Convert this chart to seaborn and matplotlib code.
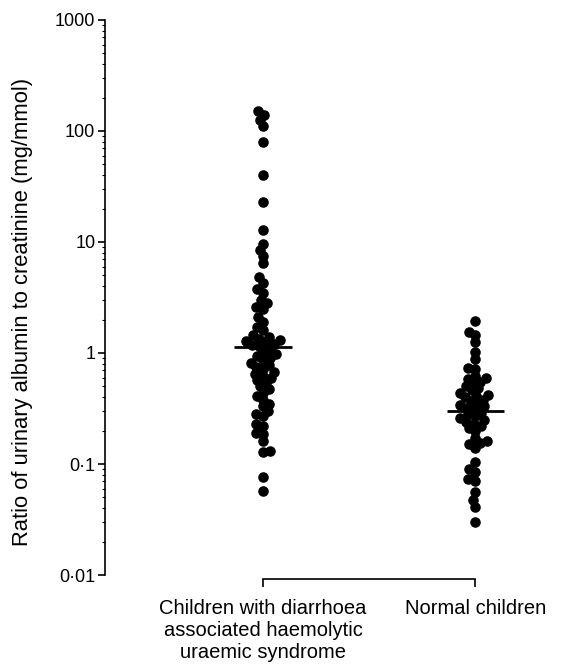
import numpy as np
import pandas as pd
import seaborn as sns
import matplotlib.pyplot as plt
from matplotlib.ticker import LogLocator, FixedLocator, NullFormatter

# Values (ratio, mg/mmol)
hus = [150, 140, 125, 110, 80, 40, 23, 12.8, 9.6, 8.5, 7.5, 6.5,
       4.8, 4.3, 3.8, 3.5, 3.0, 2.8, 2.6, 2.5, 2.1, 1.9, 1.7, 1.6, 1.45,
       1.4, 1.35, 1.3, 1.28, 1.25, 1.2, 1.18, 1.15,
       1.08, 1.02, 0.98, 0.93, 0.9, 0.86, 0.82, 0.78, 0.75, 0.72, 0.68,
       0.65, 0.62, 0.6, 0.57, 0.54, 0.5, 0.47, 0.44, 0.41, 0.38, 0.35,
       0.33, 0.3, 0.28, 0.27, 0.23, 0.22, 0.19, 0.185, 0.16, 0.13, 0.128,
       0.076, 0.057]
normal = [1.94, 1.55, 1.45, 1.25, 1.02, 0.88, 0.73, 0.72, 0.62, 0.6,
          0.58, 0.55, 0.53, 0.5, 0.48, 0.46, 0.44, 0.42, 0.41, 0.4,
          0.38, 0.37, 0.35, 0.34, 0.33, 0.32, 0.31,
          0.29, 0.28, 0.27, 0.26, 0.25, 0.24, 0.23, 0.22, 0.21, 0.2,
          0.17, 0.16, 0.155, 0.15, 0.14, 0.104, 0.09, 0.085, 0.073, 0.07,
          0.056, 0.047, 0.041, 0.030]
categories = ["Children with diarrhoea\nassociated haemolytic\nuraemic syndrome",
              "Normal children"]
medians = [1.13, 0.30]
ytick_values = [0.01, 0.1, 1, 10, 100, 1000]
ytick_labels = ["0\u00b701", "0\u00b71", "1", "10", "100", "1000"]

df = pd.DataFrame({
    "group": [categories[0]] * len(hus) + [categories[1]] * len(normal),
    "ratio": hus + normal,
})

sns.set_style("ticks", {"axes.edgecolor": "black", "text.color": "black",
                        "axes.labelcolor": "black", "xtick.color": "black",
                        "ytick.color": "black"})
plt.rcParams["font.family"] = ["Liberation Sans", "DejaVu Sans"]

fig = plt.figure(figsize=(5.69, 6.64), dpi=100)
ax = fig.add_axes([0.1845, 0.134, 0.80, 0.836])
ax.set_yscale("log")
ax.set_ylim(0.01, 1000)
ax.set_xlim(-0.745, 1.40)

# lay the swarm out with small markers so the dots overlap like the original
sns.swarmplot(data=df, x="group", y="ratio", order=categories, color="black",
              size=4.9, ax=ax)
ax.set_xlim(-0.745, 1.40)
fig.canvas.draw()
for coll in ax.collections:
    if "draw" in coll.__dict__:
        del coll.draw
    coll.set_sizes([7.6 ** 2])

pos = np.arange(len(categories))
ax.hlines(medians, pos - 0.135, pos + 0.135, colors="black", linewidth=2)

ax.yaxis.set_major_locator(FixedLocator(ytick_values))
ax.set_yticklabels(ytick_labels)
ax.yaxis.set_minor_locator(LogLocator(base=10, subs=np.arange(2, 10)))
ax.yaxis.set_minor_formatter(NullFormatter())
ax.tick_params(axis="y", which="major", length=5, width=1.2, labelsize=13, pad=2)
ax.tick_params(axis="y", which="minor", length=2.5, width=0.8)
ax.tick_params(axis="x", length=6, width=1.2, labelsize=14.5, pad=8)
for lbl in ax.get_xticklabels():
    lbl.set_linespacing(1.05)

ax.set_ylabel("Ratio of urinary albumin to creatinine (mg/mmol)", fontsize=15.8)
ax.yaxis.set_label_coords(-0.158, 0.474)
ax.set_xlabel("")

sns.despine(ax=ax)
ax.spines["left"].set_linewidth(1.2)
ax.spines["bottom"].set_linewidth(1.2)
ax.spines["bottom"].set_bounds(0, 1)
ax.spines["bottom"].set_position(("outward", 3))

fig.savefig("out.png", dpi=100)
